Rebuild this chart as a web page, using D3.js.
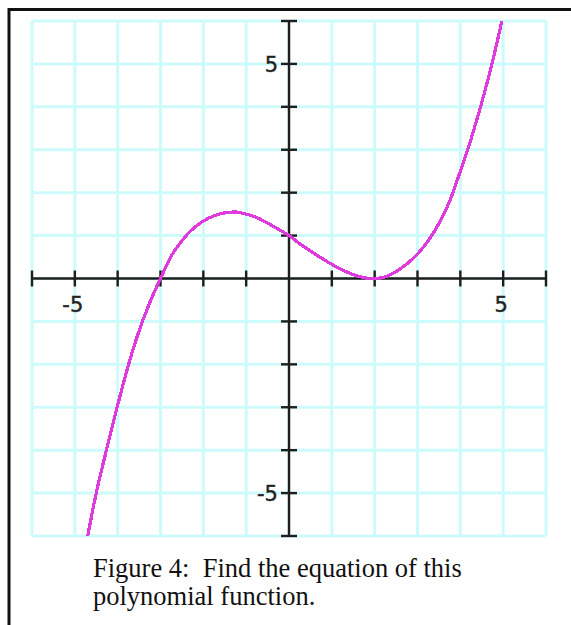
<!DOCTYPE html>
<html>
<head>
<meta charset="utf-8">
<script src="https://cdn.jsdelivr.net/npm/d3@7"></script>
<style>
  html, body { margin: 0; padding: 0; background: #fff; }
  svg { display: block; }
</style>
</head>
<body>
<svg id="chart" width="571" height="625"></svg>
<script>
// Sampled points of the plotted polynomial
const xValues = [-4.7, -4.5, -4.25, -4, -3.75, -3.5, -3.25, -3, -2.75, -2.5, -2.25, -2, -1.75, -1.5, -1.25, -1,
                 -0.75, -0.5, -0.25, 0, 0.25, 0.5, 0.75, 1, 1.25, 1.5, 1.75, 1.9, 2, 2.25, 2.5, 2.75, 3, 3.25,
                 3.5, 3.75, 4, 4.25, 4.5, 4.75, 4.97];
const yValues = [-6.0, -5.0, -3.95, -2.95, -2.02, -1.22, -0.56, 0.0, 0.52, 0.88, 1.15, 1.34, 1.46, 1.53, 1.55, 1.5,
                 1.42, 1.29, 1.15, 1.0, 0.81, 0.64, 0.48, 0.33, 0.2, 0.09, 0.02, 0.0, 0.0, 0.04, 0.16, 0.34, 0.57, 0.88,
                 1.28, 1.8, 2.5, 3.25, 4.1, 5.05, 6.0];

// Axis range, grid steps and labelled ticks
const domainX = [-6, 6];
const domainY = [-6, 6];
const gridSteps = d3.range(-6, 7);
const xTickLabels = [{ v: -5, t: "-5" }, { v: 5, t: "5" }];
const yTickLabels = [{ v: 5, t: "5" }, { v: -5, t: "-5" }];
const captionLines = ["Figure 4:  Find the equation of this", "polynomial function."];

const svg = d3.select("#chart");

// Outer frame
svg.append("rect")
  .attr("x", 9).attr("y", 9.5)
  .attr("width", 580).attr("height", 640)
  .attr("fill", "none").attr("stroke", "#111").attr("stroke-width", 3);

const plot = { left: 32, right: 546, top: 21, bottom: 536 };
const x = d3.scaleLinear().domain(domainX).range([plot.left, plot.right]);
const y = d3.scaleLinear().domain(domainY).range([plot.bottom, plot.top]);

// Grid
const grid = svg.append("g").attr("stroke", "#cdfbfb").attr("stroke-width", 3);
grid.selectAll("line.v").data(gridSteps).join("line").attr("class", "v")
  .attr("x1", d => x(d)).attr("x2", d => x(d))
  .attr("y1", plot.top).attr("y2", plot.bottom);
grid.selectAll("line.h").data(gridSteps).join("line").attr("class", "h")
  .attr("y1", d => y(d)).attr("y2", d => y(d))
  .attr("x1", plot.left).attr("x2", plot.right);

// Axes with a tick at each integer
const axisColor = "#1e1e1e";
const tickHalf = 8;
const axes = svg.append("g").attr("stroke", axisColor).attr("stroke-width", 2.4);
axes.append("line").attr("x1", x(-6)).attr("x2", x(6)).attr("y1", y(0)).attr("y2", y(0));
axes.append("line").attr("y1", y(-6)).attr("y2", y(6)).attr("x1", x(0)).attr("x2", x(0));
axes.selectAll("line.xt").data(gridSteps.filter(d => d !== 0)).join("line").attr("class", "xt")
  .attr("x1", d => x(d)).attr("x2", d => x(d))
  .attr("y1", y(0) - tickHalf).attr("y2", y(0) + tickHalf);
axes.selectAll("line.yt").data(gridSteps.filter(d => d !== 0)).join("line").attr("class", "yt")
  .attr("y1", d => y(d)).attr("y2", d => y(d))
  .attr("x1", x(0) - tickHalf).attr("x2", x(0) + tickHalf);

// Tick labels
const labelFont = "'DejaVu Sans', sans-serif";
svg.append("g").selectAll("text").data(xTickLabels).join("text")
  .attr("x", d => x(d.v) - 2).attr("y", y(0) + 33)
  .attr("text-anchor", "middle")
  .attr("font-family", labelFont).attr("font-size", 21).attr("fill", "#222")
  .attr("stroke", "#222").attr("stroke-width", 0.4)
  .text(d => d.t);
svg.append("g").selectAll("text").data(yTickLabels).join("text")
  .attr("x", x(0) - 11).attr("y", d => y(d.v) + 8)
  .attr("text-anchor", "end")
  .attr("font-family", labelFont).attr("font-size", 21).attr("fill", "#222")
  .attr("stroke", "#222").attr("stroke-width", 0.4)
  .text(d => d.t);

// Curve, clipped to the plot area
svg.append("clipPath").attr("id", "plotClip")
  .append("rect").attr("x", plot.left).attr("y", plot.top)
  .attr("width", plot.right - plot.left).attr("height", plot.bottom - plot.top);

const points = xValues.map((v, i) => [v, yValues[i]]);
const line = d3.line().x(d => x(d[0])).y(d => y(d[1])).curve(d3.curveMonotoneX);
svg.append("path")
  .datum(points)
  .attr("clip-path", "url(#plotClip)")
  .attr("d", line)
  .attr("fill", "none")
  .attr("stroke", "#de3ade")
  .attr("stroke-width", 3.2)
  .attr("shape-rendering", "crispEdges");

// Caption
svg.append("g").selectAll("text").data(captionLines).join("text")
  .attr("x", 93).attr("y", (d, i) => 577 + i * 28)
  .attr("font-family", "'Liberation Serif', 'Times New Roman', serif")
  .attr("font-size", 26.5).attr("fill", "#111")
  .style("white-space", "pre")
  .text(d => d);
</script>
</body>
</html>
